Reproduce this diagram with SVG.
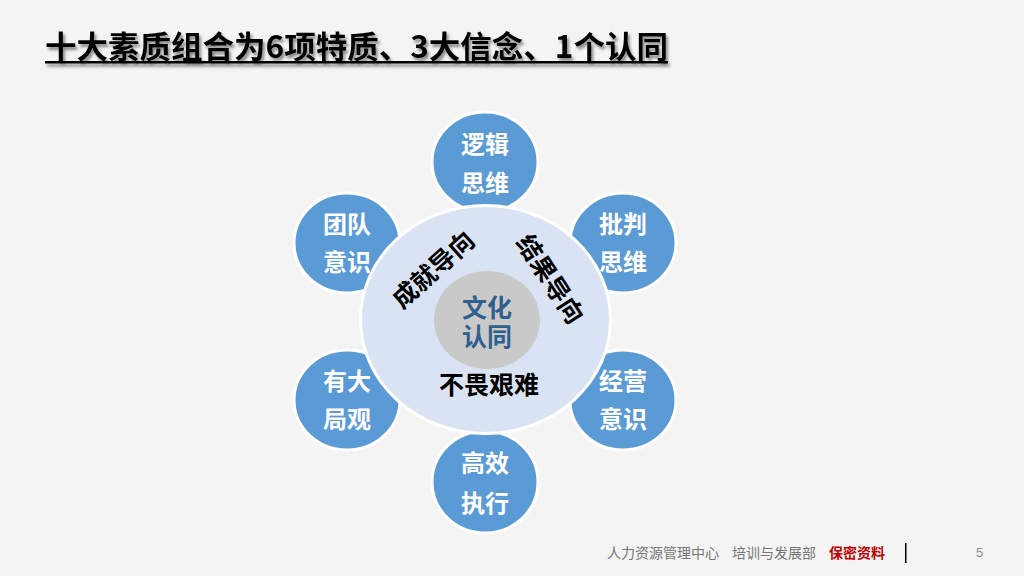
<svg xmlns="http://www.w3.org/2000/svg" width="1024" height="576" viewBox="0 0 1024 576">
<defs>
<filter id="sh" x="-5%" y="-30%" width="110%" height="160%">
<feDropShadow dx="2" dy="3" stdDeviation="1.5" flood-color="#000" flood-opacity="0.45"/>
</filter>
</defs>
<style>
text{font-family:"Noto Sans CJK SC","Noto Sans",sans-serif;}
.bc{fill:#5b9bd5;stroke:#fff;stroke-width:3;}
.bt{fill:#fff;font-size:24px;font-weight:bold;text-anchor:middle;}
.ct{fill:#000;font-size:25px;font-weight:bold;text-anchor:middle;dominant-baseline:central;}
.ft{fill:#767676;font-size:14px;}
</style>
<rect width="1024" height="576" fill="#f4f4f4"/>
<g id="title" filter="url(#sh)">
<text x="45" y="58" font-size="31" font-weight="bold" fill="#000" textLength="623" lengthAdjust="spacingAndGlyphs">十大素质组合为6项特质、3大信念、1个认同</text>
<rect x="45" y="61" width="623" height="2.5" fill="#000"/>
</g>
<g id="connectors"></g>
<g id="n-luoji"><ellipse class="bc" cx="485" cy="162" rx="53" ry="50"/><text class="bt" x="485" y="153">逻辑</text><text class="bt" x="485" y="192">思维</text></g>
<g id="n-tuandui"><ellipse class="bc" cx="347" cy="243" rx="53" ry="50"/><text class="bt" x="347" y="233">团队</text><text class="bt" x="347" y="271">意识</text></g>
<g id="n-pipan"><ellipse class="bc" cx="623" cy="243" rx="53" ry="50"/><text class="bt" x="623" y="233">批判</text><text class="bt" x="623" y="271">思维</text></g>
<g id="n-youda"><ellipse class="bc" cx="347" cy="400" rx="53" ry="50"/><text class="bt" x="347" y="390">有大</text><text class="bt" x="347" y="428">局观</text></g>
<g id="n-jingying"><ellipse class="bc" cx="623" cy="400" rx="53" ry="50"/><text class="bt" x="623" y="390">经营</text><text class="bt" x="623" y="428">意识</text></g>
<g id="n-gaoxiao"><ellipse class="bc" cx="485" cy="482" rx="53" ry="51"/><text class="bt" x="485" y="472">高效</text><text class="bt" x="485" y="512">执行</text></g>
<g id="center">
<ellipse cx="485.5" cy="319.5" rx="125" ry="114" fill="#dae3f3" stroke="#fff" stroke-width="3"/>
<ellipse cx="487" cy="320" rx="53" ry="49" fill="#c9c9c9"/>
<text class="ct" x="487" y="306" style="fill:#2e5f8e">文化</text>
<text class="ct" x="487" y="335" style="fill:#2e5f8e">认同</text>
<text class="ct" x="432" y="268" transform="rotate(-42 432 268)">成就导向</text>
<text class="ct" x="552" y="278" transform="rotate(57 552 278)">结果导向</text>
<text class="ct" x="489" y="383">不畏艰难</text>
</g>
<g id="footer">
<text class="ft" x="607" y="558">人力资源管理中心</text>
<text class="ft" x="732" y="558">培训与发展部</text>
<text x="829" y="558" font-size="14" font-weight="bold" fill="#c00000">保密资料</text>
<rect x="905" y="543" width="1.5" height="20" fill="#000"/>
<text x="976" y="557" font-size="13" fill="#8c8c8c" style="font-family:'Liberation Sans',sans-serif">5</text>
</g>
</svg>
